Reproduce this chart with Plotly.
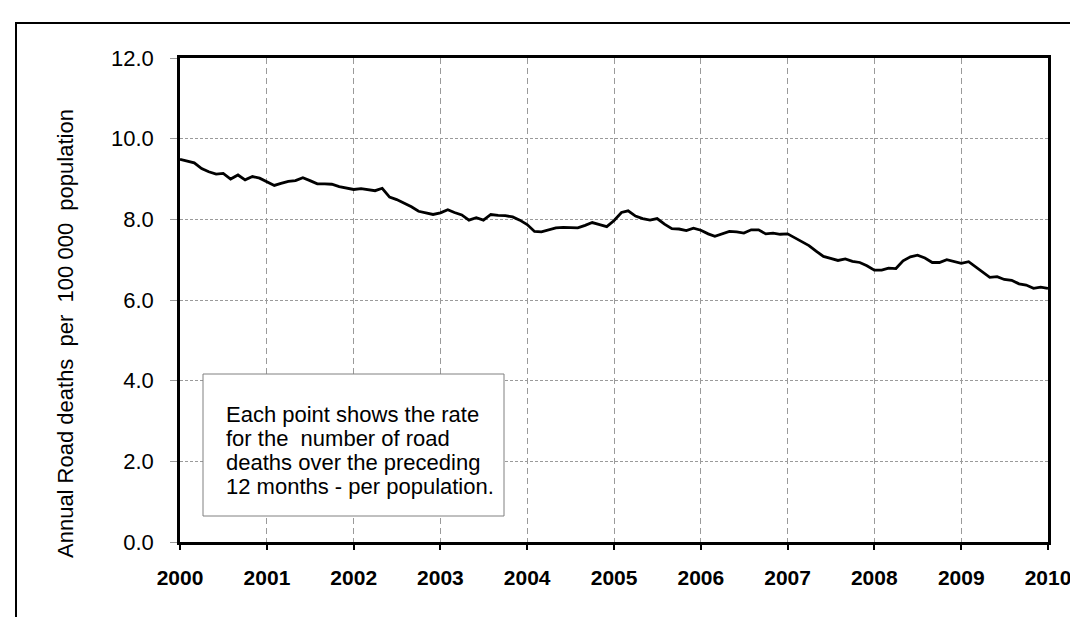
import pandas as pd
import plotly.graph_objects as go

# Monthly rolling 12-month road death rate per 100 000 population, Jan 2000 .. Jan 2010
start_month = "2000-01-01"
rates = [
    9.49, 9.45, 9.40, 9.26, 9.18, 9.12, 9.14, 9.00, 9.10, 8.98, 9.06, 9.02,
    8.93, 8.84, 8.89, 8.94, 8.96, 9.03, 8.96, 8.88, 8.88, 8.87, 8.81, 8.77,
    8.74, 8.76, 8.73, 8.71, 8.77, 8.55, 8.49, 8.40, 8.31, 8.20, 8.15, 8.12,
    8.16, 8.24, 8.17, 8.11, 7.98, 8.04, 7.98, 8.12, 8.10, 8.09, 8.06, 7.98,
    7.87, 7.70, 7.69, 7.74, 7.79, 7.80, 7.79, 7.79, 7.85, 7.92, 7.87, 7.82,
    7.97, 8.17, 8.21, 8.08, 8.02, 7.98, 8.02, 7.88, 7.77, 7.76, 7.72, 7.78,
    7.73, 7.64, 7.58, 7.64, 7.70, 7.69, 7.66, 7.74, 7.74, 7.64, 7.66, 7.63,
    7.64, 7.54, 7.44, 7.35, 7.21, 7.08, 7.03, 6.98, 7.02, 6.96, 6.93, 6.85,
    6.74, 6.74, 6.79, 6.78, 6.97, 7.07, 7.11, 7.04, 6.93, 6.93, 7.00, 6.96,
    6.91, 6.95, 6.83, 6.70, 6.56, 6.58, 6.51, 6.49, 6.40, 6.37, 6.29, 6.32,
    6.29,
]
months = pd.date_range(start_month, periods=len(rates), freq="MS")
y_ticks = [0, 2, 4, 6, 8, 10, 12]
y_tick_labels = ["0.0", "2.0", "4.0", "6.0", "8.0", "10.0", "12.0"]
y_title = "Annual Road deaths\u00a0 per\u00a0 100 000\u00a0 population"
note_lines = [
    "Each point shows the rate",
    "for the\u00a0 number of road",
    "deaths over the preceding",
    "12 months - per population.",
]

W, H = 1078, 617
L, R, T, B = 172, 1040, 50, 534
pw, ph = R - L, B - T


def px(x):
    return (x - L) / pw


def py(y):
    return (B - y) / ph


FONT = "Liberation Sans, Arial, sans-serif"

fig = go.Figure()
fig.add_trace(go.Scatter(
    x=months, y=rates, mode="lines",
    line=dict(color="black", width=2.8),
    showlegend=False, hoverinfo="skip",
))

fig.update_layout(
    width=W, height=H,
    margin=dict(l=L, r=W - R, t=T, b=H - B, autoexpand=False),
    paper_bgcolor="white", plot_bgcolor="white",
    font=dict(family=FONT, color="black"),
    showlegend=False,
)

fig.update_xaxes(
    type="date",
    range=[months[0], months[-1]],
    dtick="M12", tick0=months[0], tickformat="%Y",
    showgrid=True, gridcolor="#9a9a9a", gridwidth=1, griddash="6px,4px",
    showline=True, linecolor="black", linewidth=2.5, mirror=True,
    ticks="outside", ticklen=5, tickwidth=2, tickcolor="black",
    tickfont=dict(family=FONT, size=21, color="black", weight="bold"),
    ticklabelstandoff=10,
    zeroline=False, fixedrange=True,
)
fig.update_yaxes(
    range=[0, 12],
    tickvals=y_ticks, ticktext=y_tick_labels,
    showgrid=True, gridcolor="#9a9a9a", gridwidth=1, griddash="3px,2px",
    showline=True, linecolor="black", linewidth=2.5, mirror=True,
    ticks="outside", ticklen=7, tickwidth=1, tickcolor="#9a9a9a",
    tickfont=dict(family=FONT, size=22, color="black"),
    ticklabelstandoff=12,
    zeroline=False, fixedrange=True,
)

shapes = [
    # outer chart border (cut off at right and bottom)
    dict(type="rect", xref="paper", yref="paper",
         x0=px(8), x1=px(1095), y0=py(640), y1=py(15),
         line=dict(color="black", width=2), fillcolor="rgba(0,0,0,0)",
         layer="below"),
    # note box
    dict(type="rect", xref="paper", yref="paper",
         x0=px(195), x1=px(496), y0=py(508), y1=py(366),
         line=dict(color="#808080", width=1), fillcolor="white",
         layer="above"),
]
fig.update_layout(shapes=shapes)

fig.add_annotation(
    xref="paper", yref="paper", x=px(57), y=py(326),
    text=y_title, textangle=-90, showarrow=False,
    xanchor="center", yanchor="middle",
    font=dict(family=FONT, size=22, color="black"),
)
for i, line in enumerate(note_lines):
    fig.add_annotation(
        xref="paper", yref="paper", x=px(216), y=py(406 + 24 * i),
        text=line, showarrow=False, align="left",
        xanchor="left", yanchor="middle",
        font=dict(family=FONT, size=22, color="black"),
    )

fig.write_html("out.html")
